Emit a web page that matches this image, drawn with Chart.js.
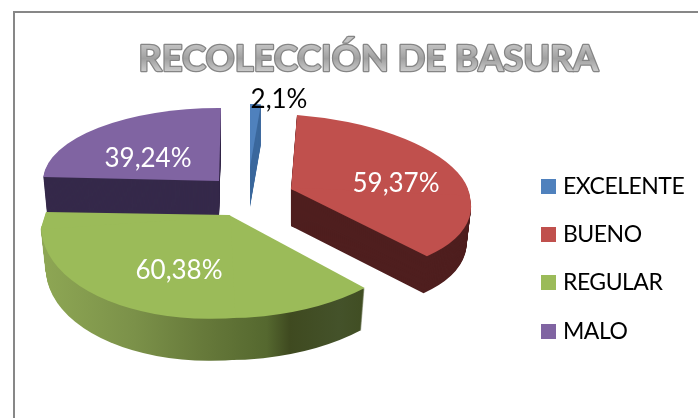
<!DOCTYPE html>
<html><head><meta charset="utf-8">
<style>html,body{margin:0;padding:0;background:#fff}canvas{display:block}</style>
<script src="https://cdn.jsdelivr.net/npm/chart.js@4"></script>
</head><body><canvas id="c" width="698" height="418"></canvas>
<script>
const chartTitle = 'RECOLECCIÓN DE BASURA';
const categories = ['EXCELENTE', 'BUENO', 'REGULAR', 'MALO'];
const values = [2.1, 59.37, 60.38, 39.24];
const topColors = ['#4F81BD', '#C0504D', '#9BBB59', '#8064A2'];
const wallColors = ['#3D699E', '#4F1F1F', null, '#35294A'];
const valueLabels = values.map(v => String(v).replace('.', ',') + '%');

// Perspective model of each exploded slice: apex on screen, where the four
// circle axes land, wall depth, and the quadrants that slice occupies.
const sliceView = [
  {apex:[250,167], U:[0,-63],    R:[134,0],   D:[0,60],   L:[-134,0],  depth:40, shrink:0,     quads:['UR']},
  {apex:[291,189], U:[-8.7,-75], R:[179,8],   D:[20,84],  L:[-179,0],  depth:37, shrink:0.025, quads:['UR','RD']},
  {apex:[229,215], U:[120,-400], R:[195,-4],  D:[5,103],  L:[-188,13], depth:42, shrink:0.025, quads:['RD','DL','LU']},
  {apex:[219,181], U:[2,-73],    R:[176,0],   D:[0,73],   L:[-176,-1], depth:36, shrink:0.02,  quads:['LU']}
];
const drawOrder = [3, 0, 1, 2];
const labelSpots = [[279,100,'#000'],[396,184,'#fff'],[179,271,'#fff'],[148,159,'#fff']];
const greenWall = [[40,'#8EA754'],[130,'#7B9149'],[200,'#66793A'],[262,'#55682F'],[285,'#3F4A20'],[335,'#44522A'],[370,'#3F4C20']];
const legendRows = [186.5, 234.5, 282.5, 331.5];

const quadSpec = {
  UR:{a:'U',b:'R',col1:'R',col2:'U',neg2:true},
  RD:{a:'R',b:'D',col1:'R',col2:'D'},
  DL:{a:'D',b:'L',col1:'L',col2:'D',neg1:true},
  LU:{a:'L',b:'U',col1:'L',col2:'U',neg1:true,neg2:true}
};

function drawSliceLayer(ctx, arc, view, t, fill, gradientStops){
  const dy = Math.round(view.depth * t);
  const sx = 1 - view.shrink * t;
  const ax = view.apex[0], ay = view.apex[1] + dy;
  const R = arc.outerRadius, cx = arc.x, cy = arc.y;
  const vec = k => [view[k][0] * sx, view[k][1]];
  for (const q of view.quads){
    const s = quadSpec[q];
    const pa = vec(s.a), pb = vec(s.b);
    const la = Math.hypot(pa[0],pa[1]), lb = Math.hypot(pb[0],pb[1]);
    const ox = ax - 1.5*(pa[0]/la + pb[0]/lb), oy = ay - 1.5*(pa[1]/la + pb[1]/lb);
    const c1 = vec(s.col1), c2 = vec(s.col2);
    if (s.neg1){c1[0]=-c1[0];c1[1]=-c1[1];}
    if (s.neg2){c2[0]=-c2[0];c2[1]=-c2[1];}
    ctx.save();
    ctx.beginPath();
    ctx.moveTo(ox,oy);
    ctx.lineTo(ox+pa[0]*3,oy+pa[1]*3);
    ctx.lineTo(ox+(pa[0]+pb[0])*3,oy+(pa[1]+pb[1])*3);
    ctx.lineTo(ox+pb[0]*3,oy+pb[1]*3);
    ctx.closePath();
    ctx.clip();
    const A=c1[0]/R,B=c1[1]/R,C=c2[0]/R,D=c2[1]/R;
    ctx.transform(A,B,C,D,ax-(A*cx+C*cy),ay-(B*cx+D*cy));
    let paint = fill;
    if (gradientStops){
      const x0 = gradientStops[0][0], x1 = gradientStops[gradientStops.length-1][0];
      const g = ctx.createLinearGradient(cx+(x0-ax)/A,cy,cx+(x1-ax)/A,cy);
      gradientStops.forEach(st=>g.addColorStop((st[0]-x0)/(x1-x0),st[1]));
      paint = g;
    }
    const base = arc.options;
    arc.options = Object.assign(Object.create(base),{backgroundColor:paint});
    arc.draw(ctx);
    arc.options = base;
    ctx.restore();
  }
}

const scene = {
  id:'scene',
  beforeDraw(chart){
    const ctx = chart.ctx;
    ctx.save();
    ctx.strokeStyle='#878787';ctx.lineWidth=2;
    ctx.beginPath();ctx.moveTo(14,430);ctx.lineTo(14,12);ctx.lineTo(710,12);ctx.stroke();
    ctx.restore();
  },
  beforeDatasetsDraw(chart){
    const ctx = chart.ctx;
    const arcs = chart.getDatasetMeta(0).data;
    for (const i of drawOrder){
      const view = sliceView[i];
      for (let d = view.depth; d >= 1; d--){
        drawSliceLayer(ctx, arcs[i], view, d/view.depth, wallColors[i], wallColors[i]?null:greenWall);
      }
      drawSliceLayer(ctx, arcs[i], view, 0, topColors[i], null);
    }
    return false;
  },
  afterDraw(chart){
    const ctx = chart.ctx;
    ctx.save();
    // title
    ctx.font='bold 36.2px Lato';ctx.textAlign='center';ctx.textBaseline='alphabetic';
    ctx.lineJoin='round';
    const g = ctx.createLinearGradient(0,44,0,73);
    g.addColorStop(0,'#c4c4c4');g.addColorStop(.5,'#a0a0a0');g.addColorStop(1,'#d0d0d0');
    ctx.strokeStyle='#858585';ctx.lineWidth=2.5;
    ctx.strokeText(chartTitle,368.5,71);
    ctx.fillStyle=g;
    ctx.fillText(chartTitle,368.5,71);
    // value labels
    ctx.font='26px Lato';ctx.textBaseline='middle';
    valueLabels.forEach((txt,i)=>{
      ctx.fillStyle=labelSpots[i][2];
      ctx.fillText(txt,labelSpots[i][0],labelSpots[i][1]);
    });
    // legend
    ctx.font='23px Lato';ctx.textAlign='left';
    ctx.letterSpacing='-0.5px';
    categories.forEach((txt,i)=>{
      ctx.fillStyle=topColors[i];
      ctx.fillRect(541,legendRows[i]-7.5,15,15);
      ctx.fillStyle='#000';
      ctx.fillText(txt,563,legendRows[i]);
    });
    ctx.restore();
  }
};

new Chart(document.getElementById('c'),{
  type:'pie',
  data:{labels:categories,datasets:[{data:values,backgroundColor:topColors,borderWidth:0}]},
  options:{responsive:false,animation:false,rotation:0,
    plugins:{legend:{display:false},title:{display:false},tooltip:{enabled:false}}},
  plugins:[scene]
});
</script></body></html>
